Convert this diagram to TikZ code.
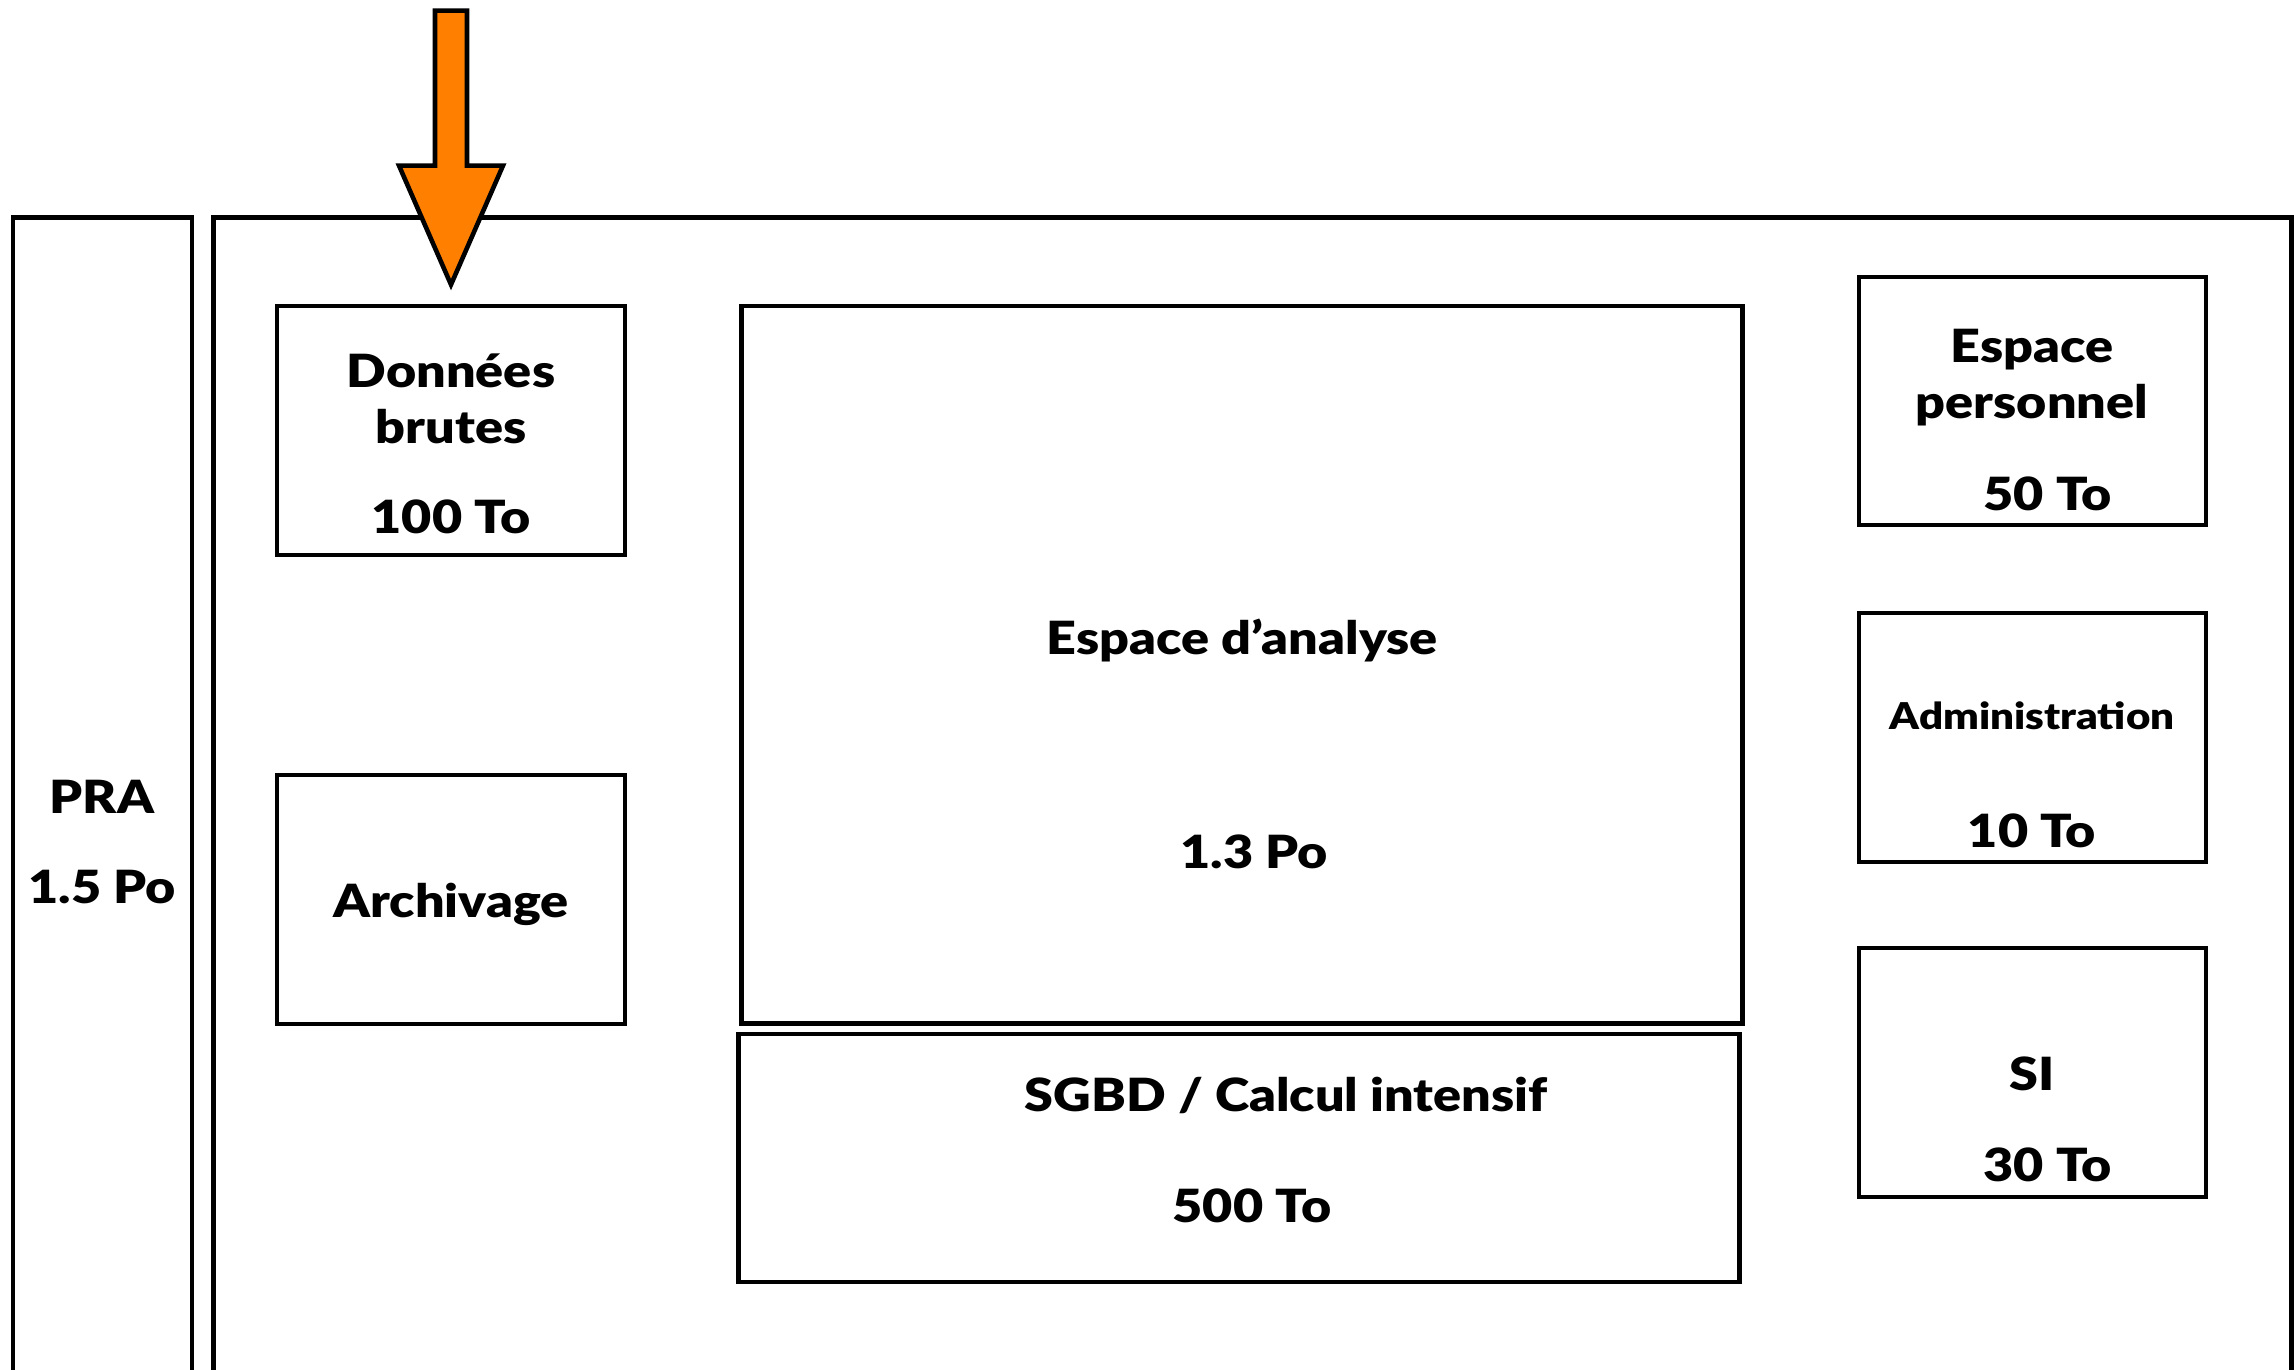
\documentclass[tikz,border=0pt]{standalone}
\usepackage{fontspec}
\setmainfont{Lato}[BoldFont={Lato Black}, BoldFeatures={FakeStretch=1.14}]

\definecolor{orangefleche}{RGB}{255,128,0}

\begin{document}
\begin{tikzpicture}[x=0.01cm, y=-0.01cm]
    \tikzstyle{boite}=[draw, rectangle, line width=1.3pt, inner sep=0pt]
    \tikzstyle{texte}=[align=center, inner sep=0pt, font=\fontsize{13}{16}\selectfont\bfseries]
    \tikzstyle{fleche}=[draw, fill=orangefleche, line width=1.3pt, line join=miter]

    \clip (0,0) rectangle (2294,1370);

    % zones
    \node[boite, minimum width=1.79cm, minimum height=12.02cm] (pra) at (102.5,819) {};
    \node[boite, minimum width=20.77cm, minimum height=12.02cm] (zone) at (1252.5,819) {};

    \node[boite, minimum width=3.48cm, minimum height=2.49cm] (brutes) at (451,430.5) {};
    \node[boite, minimum width=3.48cm, minimum height=2.49cm] (archive) at (451,899.5) {};
    \node[boite, minimum width=10cm, minimum height=7.17cm] (analyse) at (1242,664.5) {};
    \node[boite, minimum width=10cm, minimum height=2.48cm] (sgbd) at (1239,1158) {};
    \node[boite, minimum width=3.47cm, minimum height=2.48cm] (perso) at (2032.5,401) {};
    \node[boite, minimum width=3.47cm, minimum height=2.49cm] (admin) at (2032.5,737.5) {};
    \node[boite, minimum width=3.47cm, minimum height=2.49cm] (si) at (2032.5,1072.5) {};

    % textes
    \node[texte] (tpra) at (102,842) {PRA\\[9.6pt]1.5 Po};
    \node[texte] (tbrutes) at (451,444) {Données\\brutes\\[9.6pt]100 To};
    \node[texte] (tarchive) at (451,904) {Archivage};
    \node[texte] (tanalyse) at (1242,744) {Espace d’analyse\\[45pt]\hspace*{6.8pt}1.3 Po};
    \node[texte] (tsgbd) at (1252,1150) {\hspace*{19.4pt}SGBD / Calcul intensif\\[15.3pt]500 To};
    \node[texte] (tperso) at (2032,420) {Espace\\personnel\\[10pt]\hspace*{9pt}50 To};
    \node[texte] (tadmin) at (2032,775) {{\fontsize{10.5}{13}\selectfont Administration}\\[17.6pt]10 To};
    \node[texte] (tsi) at (2032,1119) {SI\\[9.9pt]\hspace*{9pt}30 To};

    % arrivee des donnees
    \draw[fleche] ([yshift=0.19cm]brutes.north) -- ++(-52,-119) -- ++(36,0) -- ++(0,-155)
        -- ++(32,0) -- ++(0,155) -- ++(36,0) -- cycle;
\end{tikzpicture}
\end{document}
